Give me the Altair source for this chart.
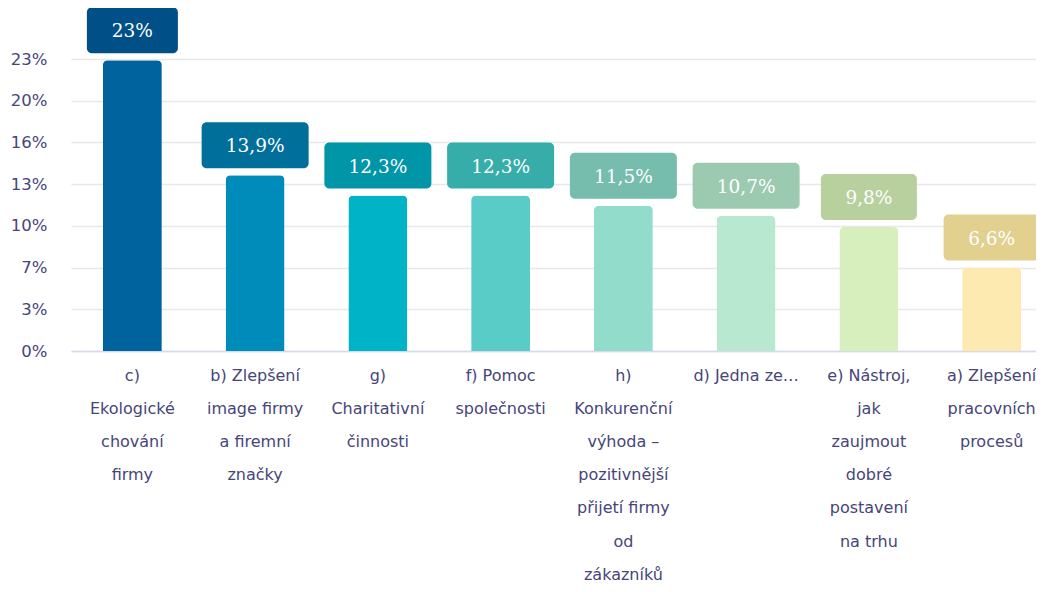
import json
import altair as alt
import pandas as pd

# ---- data ----
category_lines = [
    ["c)", "Ekologické", "chování", "firmy"],
    ["b) Zlepšení", "image firmy", "a firemní", "značky"],
    ["g)", "Charitativní", "činnosti"],
    ["f) Pomoc", "společnosti"],
    ["h)", "Konkurenční", "výhoda –", "pozitivnější", "přijetí firmy", "od", "zákazníků"],
    ["d) Jedna ze…"],
    ["e) Nástroj,", "jak", "zaujmout", "dobré", "postavení", "na trhu"],
    ["a) Zlepšení", "pracovních", "procesů"],
]
values = [23.0, 13.9, 12.3, 12.3, 11.5, 10.7, 9.8, 6.6]
value_labels = ["23%", "13,9%", "12,3%", "12,3%", "11,5%", "10,7%", "9,8%", "6,6%"]
y_tick_values = [0, 3.3, 6.6, 9.9, 13.2, 16.5, 19.8, 23.1]
y_tick_labels = ["0%", "3%", "7%", "10%", "13%", "16%", "20%", "23%"]

# ---- style ----
bar_colors = ["#01639e", "#008cba", "#00b3c6", "#5accc8", "#91dccb", "#b8e8cf", "#d7efbd", "#fdeab0"]
box_colors = ["#004f86", "#006f9a", "#0095a7", "#36ada8", "#76bdad", "#9ccab0", "#b8d09e", "#e2d08f"]
axis_text = "#46457a"

categories = ["\n".join(l) for l in category_lines]
df = pd.DataFrame({"cat": categories, "value": values, "label": value_labels})

x_enc = alt.X(
    "cat:N",
    sort=categories,
    scale=alt.Scale(range=[0, 982], paddingInner=0, paddingOuter=0),
    axis=alt.Axis(
        title=None, labelAngle=0, ticks=False, domainColor="#d6daee", domainWidth=1.5,
        labelFont="DejaVu Sans", labelFontSize=16, labelColor=axis_text, labelLineHeight=33.2,
        labelPadding=16, labelLimit=300, labelOverlap=False, labelBound=False,
        labelExpr="split(datum.label, '\\n')",
    ),
)
y_scale = alt.Scale(domain=[0, 23.1], nice=False)
y_enc = alt.Y(
    "value:Q",
    scale=y_scale,
    axis=alt.Axis(
        title=None, values=y_tick_values, domain=False, ticks=False,
        gridColor="#e8e8ea", gridWidth=1.5,
        labelFont="DejaVu Sans", labelFontSize=16.5, labelColor=axis_text, labelPadding=24,
        labelExpr=json.dumps(y_tick_labels) + "[round(datum.value/3.3)]",
    ),
)

bars = alt.Chart(df).mark_bar(width=59, cornerRadiusTopLeft=5, cornerRadiusTopRight=5).encode(
    x=x_enc,
    y=y_enc,
    color=alt.Color("cat:N", sort=categories, legend=None,
                    scale=alt.Scale(domain=categories, range=bar_colors)),
)

def box_layer(n_chars, w):
    return alt.Chart(df).transform_filter(f"length(datum.label) == {n_chars}").mark_bar(
        width=w, yOffset=-7, y2Offset=-53, cornerRadius=5
    ).encode(
        x=alt.X("cat:N", sort=categories),
        y=alt.Y("value:Q", scale=y_scale),
        y2="value:Q",
        color=alt.Color("cat:N", sort=categories, legend=None,
                        scale=alt.Scale(domain=categories, range=box_colors)),
    )

boxes = [box_layer(3, 91), box_layer(4, 96), box_layer(5, 107)]

texts = alt.Chart(df).mark_text(
    font="DejaVu Serif", fontSize=18.5, color="white", baseline="middle", yOffset=-29
).encode(
    x=alt.X("cat:N", sort=categories),
    y=alt.Y("value:Q", scale=y_scale),
    text="label:N",
)

chart = alt.layer(bars, *boxes, texts).resolve_scale(color="independent").properties(
    width=965, height=292,
    autosize=alt.AutoSizeParams(type="none"),
    padding={"left": 63, "top": 51, "right": 0, "bottom": 233},
).configure_view(stroke=None)

chart.save("out.html", embed_options={"renderer": "svg", "actions": False})
